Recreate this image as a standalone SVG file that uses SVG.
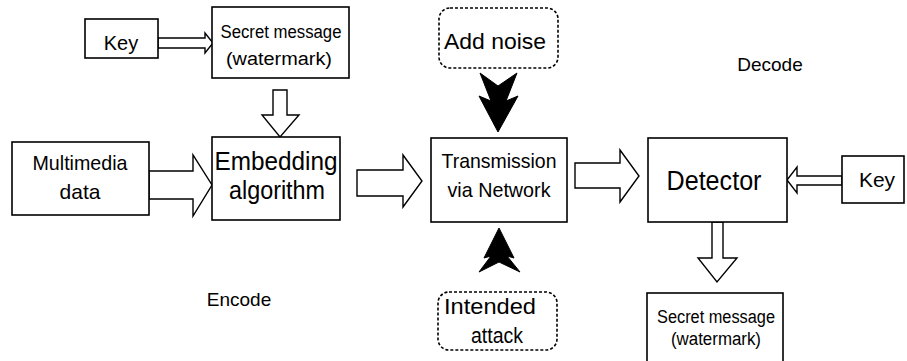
<svg xmlns="http://www.w3.org/2000/svg" width="907" height="361" viewBox="0 0 907 361">
<style>
.box{fill:#fff;stroke:#000;stroke-width:1.6}
.dash{fill:#fff;stroke:#000;stroke-width:1.6;stroke-dasharray:3 2}
.ha{fill:#fff;stroke:#000;stroke-width:1.4;stroke-linejoin:miter}
.ba{fill:#000;stroke:#000;stroke-width:1}
text{font-family:"Liberation Sans","DejaVu Sans",sans-serif;fill:#000;text-anchor:middle}
</style>
<rect width="907" height="361" fill="#fff"/>
<g id="connectors">
<polygon class="ha" points="158,38 205,38 205,33 213,43 205,53 205,48 158,48"/>
<polygon class="ha" points="273,90 287,90 287,115 299,115 280,137 262,115 273,115"/>
<polygon class="ha" points="149,171 193,171 193,155 212,185 193,216 193,199 149,199"/>
<polygon class="ha" points="357,170 403,170 403,155 422,181 403,207 403,196 357,196"/>
<polygon class="ha" points="575,163 620,163 620,150 639,176 620,202 620,188 575,188"/>
<polygon class="ha" points="842,176 797,176 797,167 787,180 797,193 797,185 842,185"/>
<polygon class="ha" points="712,222 723,222 723,258 737,258 717,282 698,258 712,258"/>
<polygon class="ba" points="480,73 498,86 517,73 506,101 518,96 498,132 479,96 491,101"/>
<polygon class="ba" points="499,228 514,258 507,256 520,272 499,262 479,272 491,256 484,258"/>
</g>
<g id="key1"><rect class="box" x="85" y="19" width="73" height="39"/><text x="121" y="50" font-size="20">Key</text></g>
<g id="secret1"><rect class="box" x="212" y="7" width="137" height="71"/><text x="281" y="38" font-size="18" textLength="121" lengthAdjust="spacingAndGlyphs">Secret message</text><text x="279" y="65" font-size="18" textLength="106" lengthAdjust="spacingAndGlyphs">(watermark)</text></g>
<g id="multimedia"><rect class="box" x="12" y="142" width="137" height="73"/><text x="80" y="170" font-size="21" textLength="95" lengthAdjust="spacingAndGlyphs">Multimedia</text><text x="80" y="199" font-size="21">data</text></g>
<g id="embedding"><rect class="box" x="212" y="137" width="128" height="83"/><text x="276" y="170" font-size="25" textLength="123" lengthAdjust="spacingAndGlyphs">Embedding</text><text x="277" y="199" font-size="25" textLength="96" lengthAdjust="spacingAndGlyphs">algorithm</text></g>
<g id="transmission"><rect class="box" x="431" y="138" width="136" height="84"/><text x="499" y="168" font-size="21" textLength="115" lengthAdjust="spacingAndGlyphs">Transmission</text><text x="499" y="197" font-size="21" textLength="103" lengthAdjust="spacingAndGlyphs">via Network</text></g>
<g id="detector"><rect class="box" x="648" y="138" width="139" height="84"/><text x="714" y="190" font-size="27" textLength="95" lengthAdjust="spacingAndGlyphs">Detector</text></g>
<g id="key2"><rect class="box" x="842" y="156" width="62" height="47"/><text x="877" y="187" font-size="21">Key</text></g>
<g id="secret2"><rect class="box" x="647" y="293" width="136" height="80"/><text x="716" y="323" font-size="18" textLength="118" lengthAdjust="spacingAndGlyphs">Secret message</text><text x="716" y="345" font-size="18" textLength="90" lengthAdjust="spacingAndGlyphs">(watermark)</text></g>
<g id="addnoise"><rect class="dash" x="439" y="8" width="119" height="60" rx="11"/><text x="495" y="49" font-size="22" textLength="102" lengthAdjust="spacingAndGlyphs">Add noise</text></g>
<g id="attack"><rect class="dash" x="438" y="292" width="119" height="58" rx="11"/><text x="490" y="314" font-size="22" textLength="92" lengthAdjust="spacingAndGlyphs">Intended</text><text x="497" y="343" font-size="22" textLength="52" lengthAdjust="spacingAndGlyphs">attack</text></g>
<g id="decode"><text x="770" y="71" font-size="19">Decode</text></g>
<g id="encode"><text x="239" y="306" font-size="19">Encode</text></g>
</svg>
